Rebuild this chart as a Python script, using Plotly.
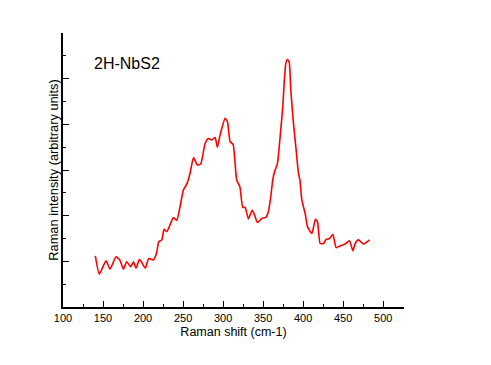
import plotly.graph_objects as go

raman_shift = [140.4, 145.4, 153.75, 158.75, 166.25, 171, 175.4, 179.6, 184.6, 188, 191.25, 195.4, 197.9,
               202.9, 207, 212.9, 217, 219.6, 223.4, 226.25, 229.6, 233.75, 237.9, 242.1, 246.25, 250.4,
               254.6, 258.75, 263, 267.9, 272, 277.5, 281.6, 285.9, 290, 292.9, 296.25, 302.5, 305.4,
               308.75, 312.5, 317, 321, 324.6, 327.5, 331.6, 336.3, 339, 342.9, 348.4, 353.4, 356.6,
               359.6, 362, 363.75, 367.9, 371.25, 374.6, 376.25, 378.4, 380.4, 382.5, 384.6, 387.9,
               391.25, 394.1, 396, 398.4, 402.5, 405.4, 410.9, 415.4, 417.9, 421.25, 425.4, 428.75,
               432.9, 437.1, 441.25, 446.25, 452.5, 457.9, 462.1, 465, 469.1, 475.4, 482.9]
intensity = [1.12, 0.72, 1.01, 0.83, 1.10, 1.03, 0.83, 0.99, 0.88, 0.99, 0.85, 1.04, 0.99,
             0.85, 1.06, 1.03, 1.19, 1.43, 1.47, 1.70, 1.65, 1.80, 1.96, 1.90, 2.20, 2.56,
             2.69, 2.93, 3.27, 3.11, 3.13, 3.58, 3.69, 3.66, 3.71, 3.50, 3.77, 4.13, 4.06,
             3.62, 3.56, 2.78, 2.63, 2.18, 2.18, 1.93, 2.12, 2.03, 1.85, 1.94, 1.96, 2.09,
             2.42, 2.78, 2.93, 3.15, 3.73, 4.39, 4.90, 5.34, 5.42, 5.37, 4.75, 4.02,
             3.44, 2.93, 2.78, 2.34, 2.05, 1.76, 1.61, 1.92, 1.87, 1.39, 1.39, 1.48,
             1.50, 1.59, 1.30, 1.34, 1.38, 1.45, 1.23, 1.39, 1.47, 1.38, 1.47]

x_ticks = [100, 150, 200, 250, 300, 350, 400, 450, 500]

fig = go.Figure()
fig.add_trace(go.Scatter(x=raman_shift, y=intensity, mode="lines",
                         line=dict(color="#ff0000", width=1.6, shape="spline", smoothing=0.5),
                         showlegend=False))

fig.add_annotation(text="2H-NbS2", x=0.084, y=0.889, xref="paper", yref="paper",
                   xanchor="left", yanchor="middle", showarrow=False,
                   font=dict(size=16, color="black"))

fig.update_layout(
    width=483, height=357,
    margin=dict(l=55, r=87, t=25, b=58),
    paper_bgcolor="white", plot_bgcolor="white",
    font=dict(family="Liberation Sans, Arial, sans-serif", size=11, color="black"),
    xaxis=dict(range=[100, 526], tickvals=x_ticks, ticks="inside", ticklen=6, tickwidth=1,
               tickcolor="black", showline=True, linecolor="black", linewidth=1.5,
               showgrid=False, zeroline=False, automargin=False,
               minor=dict(ticks="inside", ticklen=3, dtick=25, tickcolor="black", showgrid=False),
               title=dict(text="Raman shift (cm-1)", font=dict(size=12.5), standoff=4)),
    yaxis=dict(range=[0, 6], dtick=1, ticks="inside", ticklen=6, tickwidth=1,
               tickcolor="black", showline=True, linecolor="black", linewidth=1.5,
               showgrid=False, zeroline=False, showticklabels=False, automargin=False,
               minor=dict(ticks="inside", ticklen=3, dtick=0.5, tickcolor="black", showgrid=False),
               title=dict(text="Raman intensity (arbitrary units)", font=dict(size=12.8), standoff=0)),
)

fig.write_html("out.html")
